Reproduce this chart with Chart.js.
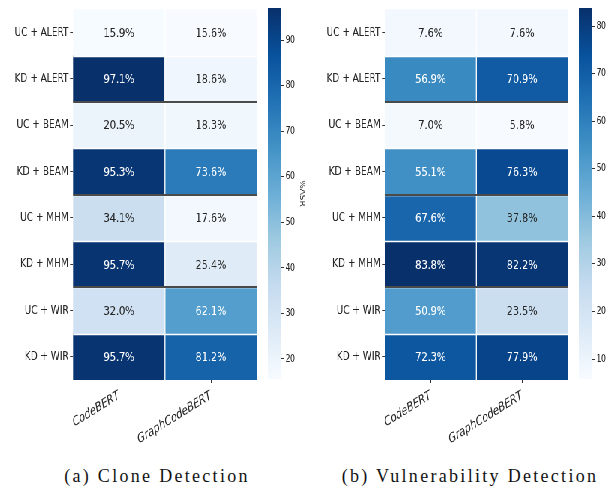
<!DOCTYPE html>
<html>
<head>
<meta charset="utf-8">
<script src="https://cdn.jsdelivr.net/npm/chart.js@4.4.1/dist/chart.umd.min.js"></script>
<style>
  html, body { margin: 0; padding: 0; background: #fff; width: 611px; height: 488px; overflow: hidden; }
  /* the figure was squeezed horizontally, so the whole plot row is drawn wider and scaled back */
  #wrap { position: absolute; left: 0; top: 0; width: 815px; height: 460px; transform: scaleX(0.75); transform-origin: 0 0; }
  .box { position: absolute; top: 0; }
  .cap { position: absolute; top: 466px; width: 320px; text-align: center; font-family: 'Liberation Serif', serif;
         font-size: 18px; line-height: 20px; color: #111; white-space: nowrap; letter-spacing: 2.3px; }
</style>
</head>
<body>
<div id="wrap">
  <div class="box" style="left:0px"><canvas id="hmA" width="353" height="450"></canvas></div>
  <div class="box" style="left:349px"><canvas id="cbA" width="64" height="400"></canvas></div>
  <div class="box" style="left:416px"><canvas id="hmB" width="352" height="450"></canvas></div>
  <div class="box" style="left:764px"><canvas id="cbB" width="64" height="400"></canvas></div>
</div>
<div class="cap" style="left:-3px">(a) Clone Detection</div>
<div class="cap" style="left:310px">(b) Vulnerability Detection</div>
<script>
const rowLabels = ['UC + ALERT', 'KD + ALERT', 'UC + BEAM', 'KD + BEAM', 'UC + MHM', 'KD + MHM', 'UC + WIR', 'KD + WIR']
const models = ['CodeBERT', 'GraphCodeBERT']

const cloneCodeBERT = [15.9, 97.1, 20.5, 95.3, 34.1, 95.7, 32.0, 95.7]
const cloneGraphCodeBERT = [15.6, 18.6, 18.3, 73.6, 17.6, 25.4, 62.1, 81.2]
const vulnCodeBERT = [7.6, 56.9, 7.0, 55.1, 67.6, 83.8, 50.9, 72.3]
const vulnGraphCodeBERT = [7.6, 70.9, 5.8, 76.3, 37.8, 82.2, 23.5, 77.9]

const cloneTicks = [20, 30, 40, 50, 60, 70, 80, 90]
const vulnTicks = [10, 20, 30, 40, 50, 60, 70, 80]

const FONT = "'DejaVu Sans', sans-serif"
Chart.defaults.font.family = FONT
Chart.defaults.color = '#262626'

// matplotlib "Blues"
const BLUES = ['#f7fbff', '#deebf7', '#c6dbef', '#9ecae1', '#6baed6', '#4292c6', '#2171b5', '#08519c', '#08306b']

function hexRgb(h) {
  return [1, 3, 5].map(i => parseInt(h.slice(i, i + 2), 16))
}

function blues(t) {
  t = Math.max(0, Math.min(1, t)) * 8
  const i = Math.min(7, Math.floor(t))
  const f = t - i
  const a = hexRgb(BLUES[i]), b = hexRgb(BLUES[i + 1])
  return a.map((c, k) => Math.round(c + (b[k] - c) * f))
}

function textColor(rgb) {
  const lin = rgb.map(c => {
    c = c / 255
    return c <= 0.03928 ? c / 12.92 : Math.pow((c + 0.055) / 1.055, 2.4)
  })
  const lum = 0.2126 * lin[0] + 0.7152 * lin[1] + 0.0722 * lin[2]
  return lum > 0.408 ? '#262626' : '#ffffff'
}

const cellText = {
  id: 'cellText',
  afterDatasetsDraw(chart) {
    const ctx = chart.ctx
    const area = chart.chartArea
    const xs = chart.scales.x, ys = chart.scales.y
    ctx.save()
    // white cell separators
    ctx.strokeStyle = '#ffffff'
    ctx.lineWidth = 1.3
    ctx.beginPath()
    const xm = xs.getPixelForValue(0.5)
    ctx.moveTo(xm, area.top)
    ctx.lineTo(xm, area.bottom)
    for (let k = 1; k < rowLabels.length; k++) {
      const y = Math.round(ys.getPixelForValue(k)) + 0.5
      ctx.moveTo(area.left, y)
      ctx.lineTo(area.right, y)
    }
    ctx.stroke()
    // group separators
    ctx.strokeStyle = '#4a4a4a'
    ctx.lineWidth = 2
    ctx.beginPath()
    for (let k = 2; k < rowLabels.length; k += 2) {
      const y = Math.round(ys.getPixelForValue(k))
      ctx.moveTo(area.left, y)
      ctx.lineTo(area.right, y)
    }
    ctx.stroke()
    // values
    ctx.font = '13px ' + FONT
    ctx.textAlign = 'center'
    ctx.textBaseline = 'middle'
    chart.data.datasets.forEach((ds, i) => {
      chart.getDatasetMeta(i).data.forEach((bar, j) => {
        ctx.fillStyle = ds.textColors[j]
        ctx.fillText(ds.vals[j].toFixed(1) + '%', bar.x, (bar.y + bar.base) / 2 + 1)
      })
    })
    ctx.restore()
  }
}

function heatmap(id, colA, colB) {
  const all = colA.concat(colB)
  const lo = Math.min(...all), hi = Math.max(...all)
  const datasets = rowLabels.map((r, i) => {
    const vals = [colA[i], colB[i]]
    const rgbs = vals.map(v => blues((v - lo) / (hi - lo)))
    return {
      label: r,
      data: models.map(() => [i, i + 1]),
      vals,
      backgroundColor: rgbs.map(c => 'rgb(' + c.join(',') + ')'),
      textColors: rgbs.map(textColor),
      borderWidth: 0,
      grouped: false,
      barPercentage: 1,
      categoryPercentage: 1
    }
  })
  new Chart(document.getElementById(id), {
    type: 'bar',
    data: { labels: models, datasets },
    options: {
      responsive: false,
      animation: false,
      layout: { padding: { top: 5, right: 10.7 } },
      plugins: { legend: { display: false }, tooltip: { enabled: false } },
      scales: {
        x: {
          grid: { offset: false, drawOnChartArea: false, drawTicks: true, tickLength: 3, color: '#333' },
          border: { display: false },
          ticks: { font: { size: 13, style: 'italic' }, minRotation: 25, maxRotation: 25, padding: 5 },
          afterFit: s => { s.height = 70 }
        },
        y: {
          min: 0,
          max: rowLabels.length,
          reverse: true,
          afterBuildTicks: s => { s.ticks = rowLabels.map((r, i) => ({ value: i + 0.5 })) },
          ticks: { autoSkip: false, font: { size: 12 }, padding: 2, callback: (v, i) => rowLabels[i] },
          grid: { drawOnChartArea: false, drawTicks: true, tickLength: 4, color: '#333' },
          border: { display: false },
          afterFit: s => { s.width = 97.3 }
        }
      }
    },
    plugins: [cellText]
  })
  return [lo, hi]
}

function colorbar(id, lo, hi, tickVals) {
  new Chart(document.getElementById(id), {
    type: 'bar',
    data: {
      labels: [''],
      datasets: [{
        data: [[lo, hi]],
        borderWidth: 0,
        barPercentage: 1,
        categoryPercentage: 1,
        backgroundColor: c => {
          const a = c.chart.chartArea
          if (!a) return BLUES[4]
          const g = c.chart.ctx.createLinearGradient(0, a.bottom, 0, a.top)
          BLUES.forEach((col, i) => g.addColorStop(i / 8, col))
          return g
        }
      }]
    },
    options: {
      responsive: false,
      animation: false,
      layout: { padding: { left: 8, top: 4, bottom: 21, right: 5.3 } },
      plugins: { legend: { display: false }, tooltip: { enabled: false } },
      scales: {
        x: { display: false },
        y: {
          position: 'right',
          min: lo,
          max: hi,
          afterBuildTicks: s => { s.ticks = tickVals.map(v => ({ value: v })) },
          ticks: { font: { size: 10 }, padding: 2 },
          grid: { drawOnChartArea: false, drawTicks: true, tickLength: 4, color: '#333' },
          border: { display: false },
          title: { display: true, text: '%ASR', font: { size: 9 }, padding: 0 },
          afterFit: s => { s.width = 33.3 }
        }
      }
    }
  })
}

const rangeA = heatmap('hmA', cloneCodeBERT, cloneGraphCodeBERT)
colorbar('cbA', rangeA[0], rangeA[1], cloneTicks)
const rangeB = heatmap('hmB', vulnCodeBERT, vulnGraphCodeBERT)
colorbar('cbB', rangeB[0], rangeB[1], vulnTicks)
</script>
</body>
</html>
